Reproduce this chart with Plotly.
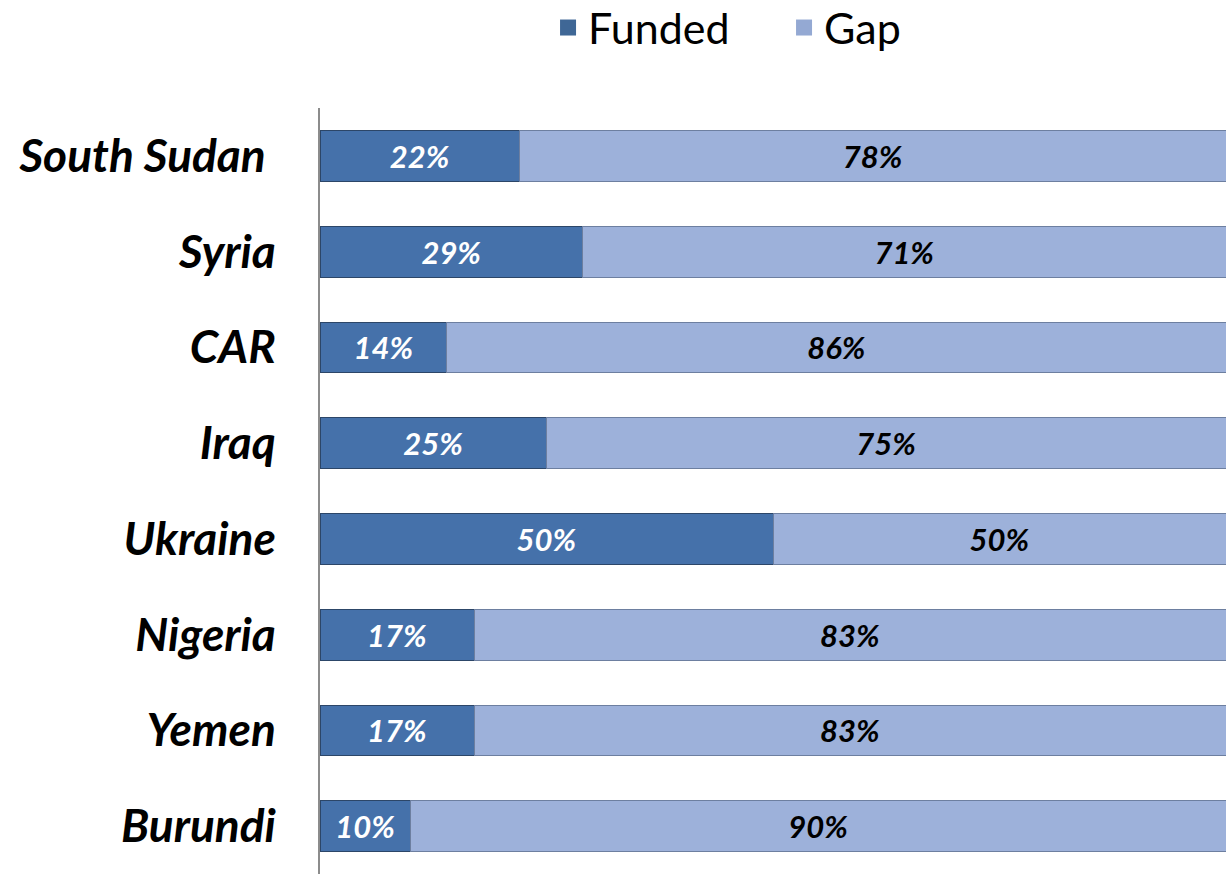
import plotly.graph_objects as go

countries = ["South Sudan\u00a0", "Syria", "CAR", "Iraq", "Ukraine", "Nigeria", "Yemen", "Burundi"]
funded = [22, 29, 14, 25, 50, 17, 17, 10]
gap = [78, 71, 86, 75, 50, 83, 83, 90]

FONT = "Lato"
FUNDED_COLOR = "#4571aa"
GAP_COLOR = "#9db1da"

fig = go.Figure()
fig.add_trace(go.Bar(
    y=countries, x=funded, name="Funded", orientation="h", showlegend=False,
    marker=dict(color=FUNDED_COLOR, line=dict(color="#2c4668", width=1)),
    text=[f"{v}%" for v in funded], textposition="inside", insidetextanchor="middle",
    textfont=dict(family=FONT, size=31, color="white", weight="bold", style="italic"),
))
fig.add_trace(go.Bar(
    y=countries, x=gap, name="Gap", orientation="h", showlegend=False,
    marker=dict(color=GAP_COLOR, line=dict(color="#6d7fa0", width=1)),
    text=[f"{v}%" for v in gap], textposition="inside", insidetextanchor="middle",
    textfont=dict(family=FONT, size=31, color="black", weight="bold", style="italic"),
))
# legend-only entries with larger square symbols
for name, col in [("Funded", "#3f6796"), ("Gap", "#94a9d3")]:
    fig.add_trace(go.Scatter(
        x=[None], y=[None], mode="markers", name=name,
        marker=dict(symbol="square", size=16, color=col),
    ))

fig.update_layout(
    barmode="stack", bargap=0.47,
    width=1226, height=876,
    plot_bgcolor="white", paper_bgcolor="white",
    margin=dict(l=320, r=0, t=108, b=2, autoexpand=False),
    font=dict(family=FONT, color="black"),
    uniformtext=dict(mode="show", minsize=31),
    legend=dict(
        orientation="h", x=0.2517, xanchor="left", y=1.105, yanchor="middle",
        font=dict(family=FONT, size=43), traceorder="normal", itemsizing="trace",
        entrywidth=191,
    ),
    xaxis=dict(range=[0, 100], visible=False, fixedrange=True),
    yaxis=dict(
        autorange="reversed", showline=True, linecolor="#8c8c8c", linewidth=2,
        ticks="", ticklabelstandoff=33, automargin=False,
        tickfont=dict(family=FONT, size=46, weight="bold", style="italic"),
        showgrid=False,
    ),
)

fig.write_html(
    "out.html",
    config={"displayModeBar": False},
    post_script="document.body.style.margin='0';",
)
